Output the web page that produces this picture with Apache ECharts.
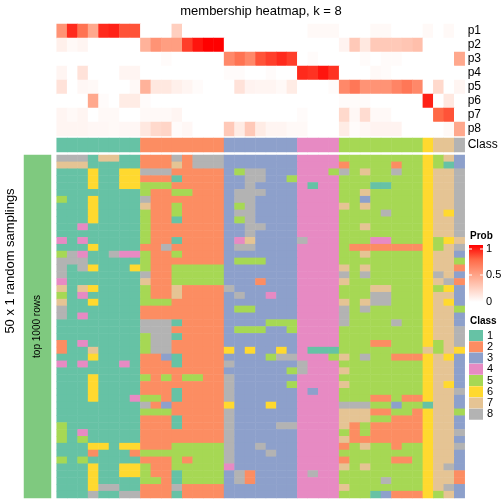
<!DOCTYPE html>
<html>
<head>
<meta charset="utf-8">
<script src="https://cdn.jsdelivr.net/npm/echarts@6/dist/echarts.min.js"></script>
<style>html,body{margin:0;padding:0;background:#fff}#c{width:504px;height:504px}</style>
</head>
<body>
<div id="c"></div>
<script>
// ---------------- data ----------------
const samples = ['s1','s2','s3','s4','s5','s6','s7','s8','s9','s10','s11','s12','s13','s14','s15','s16','s17','s18','s19','s20',
  's21','s22','s23','s24','s25','s26','s27','s28','s29','s30','s31','s32','s33','s34','s35','s36','s37','s38','s39'];
const probNames = ['p1','p2','p3','p4','p5','p6','p7','p8'];
// membership probabilities per class (columns = samples)
const p1 = [0.55,0.9,0.7,0.45,0.9,0.92,0.8,0.8, 0,0,0,0.25,0,0,0,0, 0,0,0,0,0,0,0, 0,0.03,0.03,0.03, 0,0,0,0.03,0.03,0,0,0, 0.03, 0,0.03, 0];
const p2 = [0.08,0.03,0.05,0,0,0,0,0, 0.4,0.55,0.5,0.5,0.85,0.95,1,1, 0,0,0,0,0,0,0, 0,0,0,0, 0.06,0.28,0.12,0.28,0.28,0.28,0.3,0.33, 0, 0,0, 0];
const p3 = [0,0,0,0,0,0,0,0, 0,0,0.02,0,0,0,0,0, 0.6,0.7,0.6,0.8,0.85,0.9,0.85, 0,0.02,0,0, 0,0,0.02,0,0.02,0.02,0,0, 0, 0,0, 0.45];
const p4 = [0.05,0,0.15,0,0,0,0.05,0.05, 0,0,0,0,0,0,0,0, 0.02,0.02,0,0,0.02,0,0, 0.9,0.88,0.95,0.88, 0,0,0,0.03,0.02,0,0,0, 0, 0,0, 0];
const p5 = [0.15,0,0.04,0.03,0,0,0,0.03, 0.4,0.12,0.12,0.08,0.05,0.02,0,0, 0,0.15,0.06,0.05,0.05,0.03,0.1, 0,0,0,0.02, 0.6,0.68,0.55,0.55,0.55,0.62,0.68,0.6, 0, 0.2,0, 0.05];
const p6 = [0,0,0,0.45,0.02,0,0.1,0.1, 0.02,0,0,0,0,0,0,0, 0,0,0,0,0,0,0, 0,0,0,0, 0.02,0.02,0.02,0,0,0,0,0, 0.92, 0,0.12, 0];
const p7 = [0.05,0.03,0.05,0,0.03,0.03,0,0, 0.03,0.03,0.03,0.05,0,0,0,0, 0,0,0,0,0,0,0, 0.02,0,0,0, 0.2,0.04,0.18,0.03,0.03,0,0,0, 0, 0.75,0.8, 0];
const p8 = [0.05,0.05,0.05,0.04,0.04,0.03,0.04,0.04, 0.12,0.2,0.22,0.02,0.04,0,0,0, 0.28,0.1,0.28,0.1,0.05,0.05,0.03, 0.03,0,0,0, 0.1,0.02,0.04,0.06,0.06,0.06,0,0, 0, 0,0.03, 0.45];
// consensus class of each sample
const sampleClass = [1,1,1,1,1,1,1,1, 2,2,2,2,2,2,2,2, 3,3,3,3,3,3,3, 4,4,4,4, 5,5,5,5,5,5,5,5, 6, 7,7, 8];
const classLabels = ['1','2','3','4','5','6','7','8'];
const classColors = ['#66C2A5','#FC8D62','#8DA0CB','#E78AC3','#A6D854','#FFD92F','#E5C494','#B3B3B3'];
// class of each sample in each of the 50 random samplings (one digit per sample)
const samplingRows = [
  '888177112228288833333334444555555556573',
  '777111112227288833333334444255552556513',
  '111611668882222235883334445857558556778',
  '111611662221222233883354444555555556778',
  '111611665552222233833334144555115556778',
  '111111115225522238883334444557555556778',
  '511611118222222238833334444553555556778',
  '111611117225222235833334444757555556778',
  '111611115225222238833334444555585556768',
  '111611115221222235833334444555555556778',
  '114111115222222233883334444557555556778',
  '111111115222222233833334444555555556778',
  '414111115221222234733338444555445556567',
  '111611112282222238833334444522222226578',
  '584118445225222233333334444557555556773',
  '888111115222222235553334444555555556775',
  '818611165225555533333334444757555556772',
  '811111118225555533333334444858555556873',
  '411111117225555533323334444755555556782',
  '717611115227222283333334444555775556563',
  '514111115227222238334334444555885556773',
  '711611115552222233333334444757885556763',
  '811111112222222235533334444858555556775',
  '814111112222222233333334444855555556773',
  '111111118881222233335554444855558556773',
  '111111118882222235553354444555555556778',
  '111111115881222233333334444555555556778',
  '214111115882222233333334444555225556578',
  '211711115882222263633634111555555557576',
  '111611112231222233335884445758552226763',
  '414111412221222283333338444555555556773',
  '111111112222222233333358444755555556773',
  '111611115252552283333334444555555556773',
  '111611112222222283333354444755555556763',
  '111611112221222283333334344555555556778',
  '111611145521222283333334444555225226773',
  '111111118232222263336334444888553551773',
  '111111115552222283333334444777225526775',
  '111111112221222283333334444777552226773',
  '511111112221222283333884444725222226773',
  '514111112222222283333334444525222226778',
  '515111112222222283333334444722222226773',
  '111661662225555583383334444257552556778',
  '111211125555555583338334444555555556773',
  '515111112225255583333334444255552256773',
  '111611665225555543333334444757555556783',
  '111611665221555538233334844555555556772',
  '111611115521555538233334444555585556772',
  '111688112228222233333334444755555556783',
  '111811882221222233333334444555132226573'
];
const sideLabel = 'top 1000 rows';
const probColors = ['#FFFFFF','#FFCFBF','#FF9E81','#FF6846','#FF0000'];

// ---------------- build ----------------
const FONT = "'Liberation Sans', Arial, Helvetica, sans-serif";
const probTable = [p1,p2,p3,p4,p5,p6,p7,p8];
const probData = [];
probTable.forEach((row, i) => row.forEach((v, j) => probData.push([j, i, v])));
const classData = sampleClass.map((c, j) => [j, 0, c]);
const samplingIds = samplingRows.map((_, r) => 'sampling ' + (r + 1));
const samplingData = [];
samplingRows.forEach((s, r) => s.split('').forEach((ch, j) => samplingData.push([j, r, Number(ch)])));

const chart = echarts.init(document.getElementById('c'), null, {renderer: 'canvas', width: 504, height: 504});
const L = 56.7, W = 408;
const rightLabel = {margin: 3, interval: 0, color: '#000', fontSize: 12, fontFamily: FONT};

chart.setOption({
  animation: false,
  backgroundColor: '#fff',
  grid: [
    {left: L, top: 24, width: W, height: 112},
    {left: L, top: 138, width: W, height: 14},
    {left: L, top: 155, width: W, height: 343},
    {left: 24, top: 155, width: 27, height: 343}
  ],
  xAxis: [
    {type: 'category', data: samples, gridIndex: 0, show: false},
    {type: 'category', data: samples, gridIndex: 1, show: false},
    {type: 'category', data: samples, gridIndex: 2, show: false},
    {type: 'category', data: ['all'], gridIndex: 3, show: false}
  ],
  yAxis: [
    {type: 'category', data: probNames, gridIndex: 0, inverse: true, position: 'right',
     axisLine: {show: false}, axisTick: {show: false}, splitLine: {show: false}, axisLabel: rightLabel},
    {type: 'category', data: ['Class'], gridIndex: 1, position: 'right',
     axisLine: {show: false}, axisTick: {show: false}, splitLine: {show: false}, axisLabel: rightLabel},
    {type: 'category', data: samplingIds, gridIndex: 2, inverse: true, show: false},
    {type: 'category', data: [sideLabel], gridIndex: 3, show: false}
  ],
  visualMap: [
    {type: 'continuous', seriesIndex: 0, min: 0, max: 1, show: false, inRange: {color: probColors}},
    {type: 'piecewise', seriesIndex: [1, 2], show: true, orient: 'vertical', inverse: true, align: 'left',
     left: 469, top: 330, padding: 0, itemWidth: 14, itemHeight: 11, itemGap: 0.25, textGap: 4,
     itemSymbol: 'rect', selectedMode: false,
     textStyle: {color: '#000', fontSize: 11, fontFamily: FONT},
     pieces: classLabels.map((lab, i) => ({value: i + 1, label: lab, color: classColors[i]}))},
    {type: 'piecewise', seriesIndex: 3, show: false, pieces: [{value: 1, color: '#7FC97F'}]}
  ],
  series: [
    {type: 'heatmap', xAxisIndex: 0, yAxisIndex: 0, data: probData, emphasis: {disabled: true}, progressive: 0},
    {type: 'heatmap', xAxisIndex: 1, yAxisIndex: 1, data: classData, emphasis: {disabled: true}, progressive: 0},
    {type: 'heatmap', xAxisIndex: 2, yAxisIndex: 2, data: samplingData, emphasis: {disabled: true}, progressive: 0},
    {type: 'heatmap', xAxisIndex: 3, yAxisIndex: 3, data: [[0, 0, 1]], emphasis: {disabled: true},
     label: {show: true, formatter: sideLabel, rotate: 90, color: '#000', fontSize: 10, fontFamily: FONT}}
  ],
  graphic: [
    {type: 'text', x: 261, y: 11, style: {text: 'membership heatmap, k = 8', textAlign: 'center', textVerticalAlign: 'middle', fill: '#000', font: '13px ' + FONT}},
    {type: 'text', x: 10, y: 261, rotation: Math.PI / 2, style: {text: '50 x 1 random samplings', textAlign: 'center', textVerticalAlign: 'middle', fill: '#000', font: '13px ' + FONT}},
    {type: 'text', x: 470, y: 236, style: {text: 'Prob', textAlign: 'left', textVerticalAlign: 'middle', fill: '#000', font: 'bold 10px ' + FONT}},
    {type: 'rect', shape: {x: 469, y: 245, width: 14, height: 57},
     style: {fill: {type: 'linear', x: 0, y: 0, x2: 0, y2: 1, colorStops: [
       {offset: 0, color: '#FF0000'}, {offset: 0.25, color: '#FF6846'}, {offset: 0.5, color: '#FF9E81'},
       {offset: 0.75, color: '#FFCFBF'}, {offset: 1, color: '#FFFFFF'}]}}},
    {type: 'line', shape: {x1: 469, y1: 249, x2: 472, y2: 249}, style: {stroke: '#fff', lineWidth: 1}},
    {type: 'line', shape: {x1: 480, y1: 249, x2: 483, y2: 249}, style: {stroke: '#fff', lineWidth: 1}},
    {type: 'line', shape: {x1: 469, y1: 275, x2: 472, y2: 275}, style: {stroke: '#fff', lineWidth: 1}},
    {type: 'line', shape: {x1: 480, y1: 275, x2: 483, y2: 275}, style: {stroke: '#fff', lineWidth: 1}},
    {type: 'text', x: 486, y: 249, style: {text: '1', textVerticalAlign: 'middle', fill: '#000', font: '11px ' + FONT}},
    {type: 'text', x: 486, y: 275, style: {text: '0.5', textVerticalAlign: 'middle', fill: '#000', font: '11px ' + FONT}},
    {type: 'text', x: 486, y: 302, style: {text: '0', textVerticalAlign: 'middle', fill: '#000', font: '11px ' + FONT}},
    {type: 'text', x: 470, y: 321, style: {text: 'Class', textAlign: 'left', textVerticalAlign: 'middle', fill: '#000', font: 'bold 10px ' + FONT}}
  ]
});
</script>
</body>
</html>
